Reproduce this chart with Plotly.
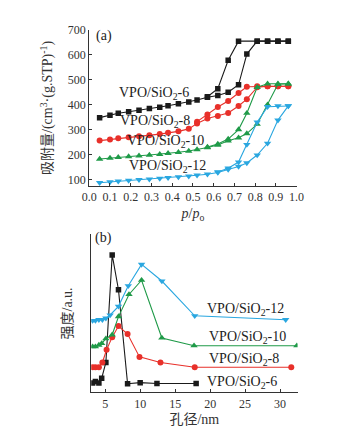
import plotly.graph_objects as go

# ---------------- panel (a): N2 isotherms ----------------
p_ads = [0.05, 0.10, 0.14, 0.19, 0.24, 0.29, 0.34, 0.38, 0.43, 0.48,
         0.52, 0.57, 0.62, 0.67, 0.72, 0.76, 0.81, 0.86, 0.91, 0.96]

v6_ads = [348, 358, 366, 372, 378, 385, 390, 396, 404, 411,
          419, 430, 437, 450, 480, 603, 655, 655, 655, 655]
p6_des = [0.96, 0.91, 0.86, 0.81, 0.72, 0.67, 0.62, 0.57]
v6_des = [655, 655, 655, 655, 655, 578, 464, 432]

v8_ads = [256, 260, 265, 269, 273, 277, 282, 287, 293, 303,
          325, 345, 355, 367, 395, 422, 470, 474, 474, 474]
p8_des = [0.96, 0.91, 0.86, 0.81, 0.76, 0.72, 0.67, 0.62, 0.57, 0.52]
v8_des = [474, 474, 474, 474, 472, 447, 415, 391, 361, 332]

v10_ads = [182, 186, 189, 192, 195, 198, 201, 205, 209, 214,
           220, 228, 238, 255, 267, 284, 322, 400, 482, 484]
p10_des = [0.96, 0.91, 0.86, 0.81, 0.76, 0.72, 0.67, 0.62, 0.57]
v10_des = [484, 484, 484, 470, 366, 300, 262, 242, 230]

v12_ads = [87, 90, 93, 96, 99, 101, 104, 107, 110, 113,
           117, 121, 128, 140, 152, 166, 198, 245, 338, 395]
p12_des = [0.96, 0.91, 0.86, 0.81, 0.76, 0.72, 0.67, 0.62]
v12_des = [395, 395, 392, 330, 240, 170, 145, 130]

# ---------------- panel (b): pore size distribution ----------------
d6 = [3.2, 3.6, 4.1, 4.5, 5.1, 6.0, 6.9, 8.2, 10.0, 12.4, 18.0]
i6 = [0.06, 0.07, 0.06, 0.09, 0.19, 0.87, 0.65, 0.055, 0.062, 0.057, 0.057]

d8 = [3.2, 3.6, 4.1, 4.6, 5.2, 6.0, 6.9, 8.2, 9.9, 12.9, 17.8, 31.6]
i8 = [0.16, 0.16, 0.16, 0.19, 0.27, 0.35, 0.42, 0.37, 0.225, 0.19, 0.16, 0.16]

d10 = [3.2, 3.6, 4.1, 4.5, 5.1, 6.0, 6.9, 8.4, 10.2, 13.1, 17.7, 32.4]
i10 = [0.29, 0.29, 0.30, 0.31, 0.34, 0.365, 0.48, 0.62, 0.71, 0.345, 0.296, 0.296]

d12 = [3.2, 3.6, 4.1, 4.6, 5.1, 5.7, 6.9, 8.3, 10.2, 13.1, 17.8, 30.8]
i12 = [0.455, 0.455, 0.46, 0.46, 0.47, 0.49, 0.545, 0.675, 0.81, 0.705, 0.485, 0.46]

x_ticks_a = [0.0, 0.1, 0.2, 0.3, 0.4, 0.5, 0.6, 0.7, 0.8, 0.9, 1.0]
y_ticks_a = [100, 200, 300, 400, 500, 600, 700]
x_ticks_b = [5, 10, 15, 20, 25, 30]

BLACK = "#1a1a1a"
RED = "#e8302a"
GREEN = "#1f9a48"
BLUE = "#2aa7e0"
SERIF = "Times New Roman, Liberation Serif, Noto Sans CJK SC, serif"

fig = go.Figure()


def add(x, y, color, symbol, size, xa="x", ya="y"):
    fig.add_trace(go.Scatter(
        x=x, y=y, mode="lines+markers", xaxis=xa, yaxis=ya,
        line=dict(color=color, width=1.1),
        marker=dict(color=color, symbol=symbol, size=size),
        showlegend=False, hoverinfo="skip"))


add(p_ads, v6_ads, BLACK, "square", 5.5)
add(p6_des, v6_des, BLACK, "square", 5.5)
add(p_ads, v8_ads, RED, "circle", 6)
add(p8_des, v8_des, RED, "circle", 6)
add(p_ads, v10_ads, GREEN, "triangle-up", 6.5)
add(p10_des, v10_des, GREEN, "triangle-up", 6.5)
add(p_ads, v12_ads, BLUE, "triangle-down", 6.5)
add(p12_des, v12_des, BLUE, "triangle-down", 6.5)

add(d6, i6, BLACK, "square", 5.5, "x2", "y2")
add(d8, i8, RED, "circle", 6, "x2", "y2")
add(d10, i10, GREEN, "triangle-up", 6.5, "x2", "y2")
add(d12, i12, BLUE, "triangle-down", 6.5, "x2", "y2")

axis_common = dict(showgrid=False, zeroline=False, showline=True,
                   linecolor="#333", linewidth=1, mirror=False,
                   tickfont=dict(family=SERIF, size=12, color="#333"),
                   title_font=dict(family=SERIF, size=14, color="#333"))

fig.update_layout(
    width=340, height=433,
    margin=dict(l=0, r=0, t=0, b=0),
    paper_bgcolor="white", plot_bgcolor="white",
    font=dict(family=SERIF),
    xaxis=dict(domain=[0.25, 0.888], anchor="y", range=[0, 1.0],
               tickvals=x_ticks_a, ticktext=[f"{v:.1f}" for v in x_ticks_a],
               ticks="inside", ticklen=3, tickcolor="#333",
               title=dict(text="<i>p</i>/<i>p</i><sub>o</sub>", standoff=4),
               **axis_common),
    yaxis=dict(domain=[0.579, 0.946], anchor="x", range=[74, 700],
               tickvals=y_ticks_a, ticks="inside", ticklen=3, tickcolor="#333",
               title=dict(text="吸附量/(cm<sup>3</sup>·(g.STP)<sup>-1</sup>)", standoff=11),
               **axis_common),
    xaxis2=dict(domain=[0.256, 0.891], anchor="y2", range=[3, 32.5],
                tickvals=x_ticks_b, ticks="inside", ticklen=3, tickcolor="#333",
                title=dict(text="孔径/nm", standoff=4),
                **axis_common),
    yaxis2=dict(domain=[0.093, 0.465], anchor="x2", range=[0, 1],
                showticklabels=False, ticks="",
                title=dict(text="强度/a.u.", standoff=14),
                **axis_common),
)

lab_font = dict(family=SERIF, size=14, color="#222")
ann = [
    ("(a)", "x", "y", 0.07, 676),
    ("VPO/SiO<sub>2</sub>-6", "x", "y", 0.31, 443),
    ("VPO/SiO<sub>2</sub>-8", "x", "y", 0.315, 332),
    ("VPO/SiO<sub>2</sub>-10", "x", "y", 0.37, 253),
    ("VPO/SiO<sub>2</sub>-12", "x", "y", 0.375, 150),
    ("(b)", "x2", "y2", 4.8, 0.975),
    ("VPO/SiO<sub>2</sub>-12", "x2", "y2", 25.0, 0.525),
    ("VPO/SiO<sub>2</sub>-10", "x2", "y2", 25.4, 0.35),
    ("VPO/SiO<sub>2</sub>-8", "x2", "y2", 24.8, 0.21),
    ("VPO/SiO<sub>2</sub>-6", "x2", "y2", 24.6, 0.06),
]
for text, xr, yr, x, y in ann:
    fig.add_annotation(text=text, xref=xr, yref=yr, x=x, y=y,
                       showarrow=False, font=lab_font)

fig.write_html("out.html")
